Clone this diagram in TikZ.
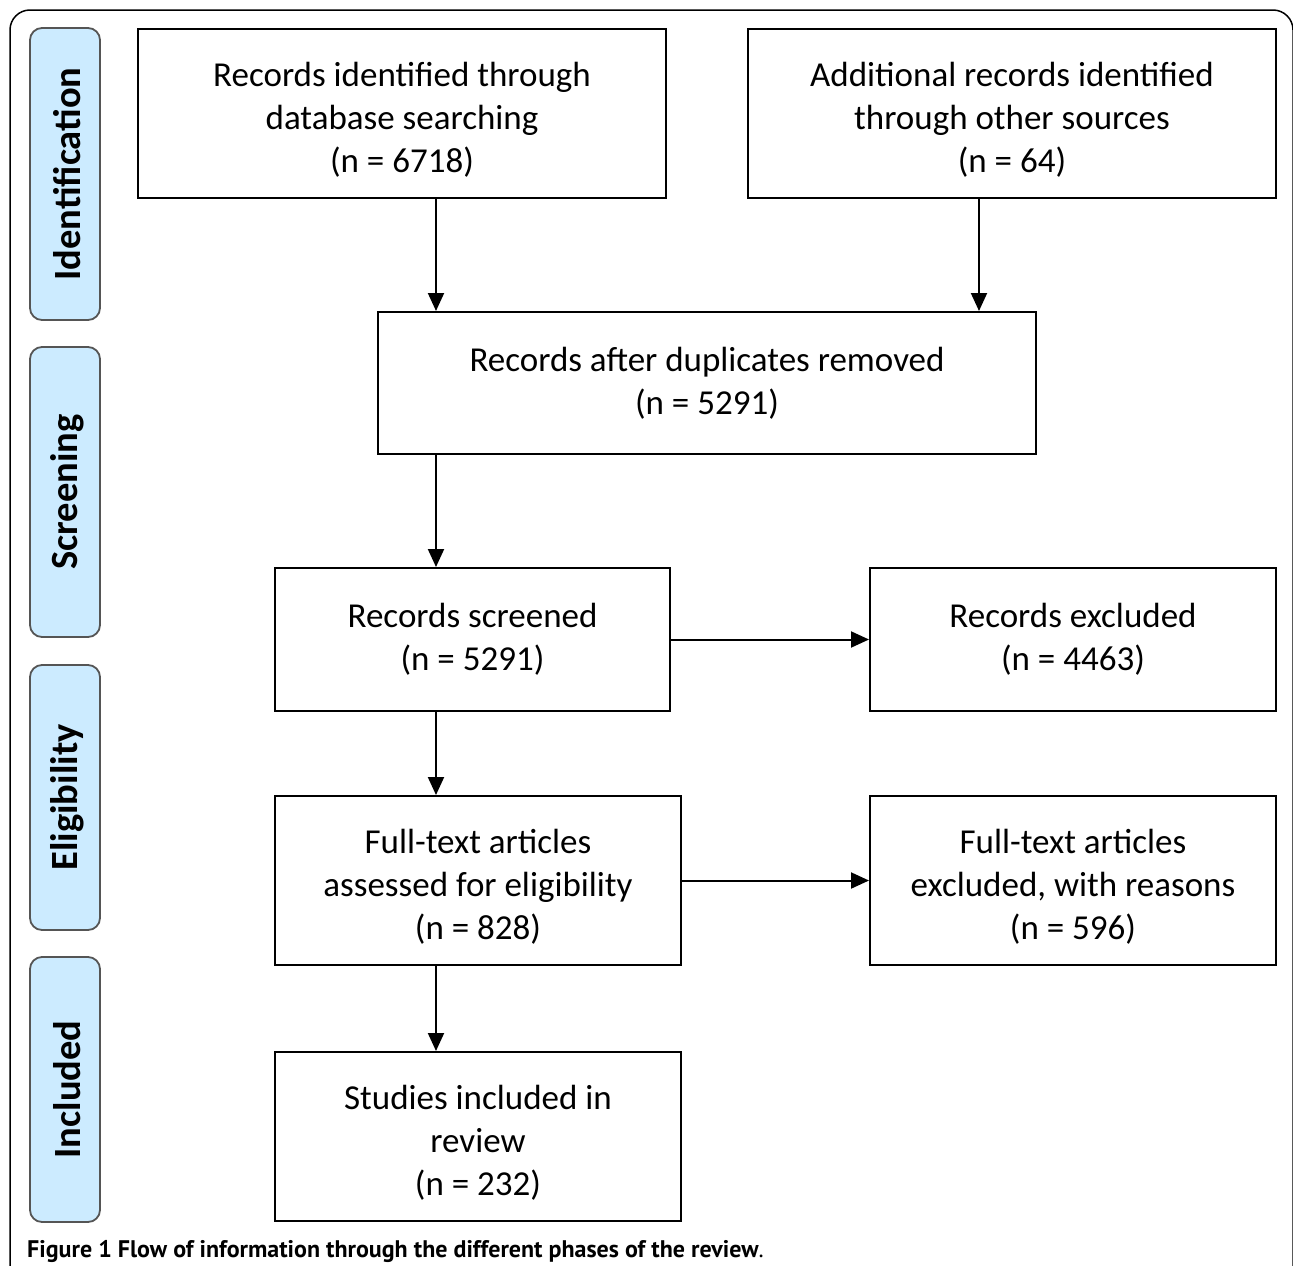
\documentclass[tikz,border=0pt]{standalone}
\usepackage{fontspec}
\setmainfont{Carlito}
\newfontfamily\capfont{PT Sans}
\usetikzlibrary{arrows.meta,positioning}
\definecolor{phasefill}{HTML}{CCEBFF}
\definecolor{phasedraw}{HTML}{555555}
\newcommand{\topstrut}{\rule{0pt}{37pt}}
\tikzset{
  flowbox/.style={draw=black, line width=2pt, fill=white, inner sep=0pt, align=center,
    font=\fontsize{35}{43}\selectfont},
  phase/.style={draw=phasedraw, line width=1.8pt, fill=phasefill, rounded corners=12pt, inner sep=0pt},
  phasetext/.style={rotate=90, font=\fontsize{38.5}{40}\selectfont\bfseries, inner sep=0pt},
  arr/.style={line width=2pt, -{Triangle[length=18pt,width=16pt]}},
}
\begin{document}
\begin{tikzpicture}[x=1pt,y=-1pt]
\useasboundingbox (0,0) rectangle (1293,1266);
\fill[white] (0,0) rectangle (1293,1266);
% outer frame
\draw[line width=1.5pt, rounded corners=20pt] (10,1270) -- (10,10) -- (1293,10) -- (1293,1270);
% phase labels
\node[phase, minimum width=70pt, minimum height=292pt] (pid) at (65,174) {};
\node[phasetext] (tid) at ([xshift=2pt]pid.center) {Identification};
\node[phase, minimum width=70pt, minimum height=290pt] (psc) at (65,492) {};
\node[phasetext] (tsc) at ([xshift=2pt]psc.center) {Screening};
\node[phase, minimum width=70pt, minimum height=265pt] (pel) at (65,797.5) {};
\node[phasetext] (tel) at ([xshift=2pt]pel.center) {Eligibility};
\node[phase, minimum width=70pt, minimum height=265pt] (pin) at (65,1089.5) {};
\node[phasetext] (tin) at ([xshift=2pt]pin.center) {Included};
% boxes
\node[flowbox, minimum width=528pt, minimum height=169pt] (b1) at (402,113.5)
  {\topstrut Records identified through\\database searching\\(n = 6718)};
\node[flowbox, minimum width=528pt, minimum height=169pt] (b2) at (1012,113.5)
  {\topstrut Additional records identified\\through other sources\\(n = 64)};
\node[flowbox, minimum width=658pt, minimum height=142pt] (b3) at (707,383)
  {Records after duplicates removed\\(n = 5291)};
\node[flowbox, minimum width=395pt, minimum height=143pt] (b4) at (472.5,639.5)
  {Records screened\\(n = 5291)};
\node[flowbox, minimum width=406pt, minimum height=143pt] (b5) at (1073,639.5)
  {Records excluded\\(n = 4463)};
\node[flowbox, minimum width=406pt, minimum height=169pt] (b6) at (478,880.5)
  {\topstrut Full-text articles\\assessed for eligibility\\(n = 828)};
\node[flowbox, minimum width=406pt, minimum height=169pt] (b7) at (1073,880.5)
  {\topstrut Full-text articles\\excluded, with reasons\\(n = 596)};
\node[flowbox, minimum width=406pt, minimum height=169pt] (b8) at (478,1136.5)
  {\topstrut Studies included in\\review\\(n = 232)};
% arrow guide coordinates
\coordinate (ax) at (436,0);
\coordinate (bx) at (979,0);
% arrows
\draw[arr] (b1.south -| ax) -- (b3.north -| ax);
\draw[arr] (b2.south -| bx) -- (b3.north -| bx);
\draw[arr] (b3.south -| ax) -- (b4.north -| ax);
\draw[arr] (b4.east) -- (b5.west);
\draw[arr] (b4.south -| ax) -- (b6.north -| ax);
\draw[arr] (b6.east) -- (b7.west);
\draw[arr] (b6.south -| ax) -- (b8.north -| ax);
% caption
\node[anchor=base west, inner sep=0pt, font=\capfont\fontsize{24}{26}\selectfont] (cap) at (27,1257)
  {\textbf{Figure 1 Flow of information through the different phases of the review}.};
\end{tikzpicture}
\end{document}
